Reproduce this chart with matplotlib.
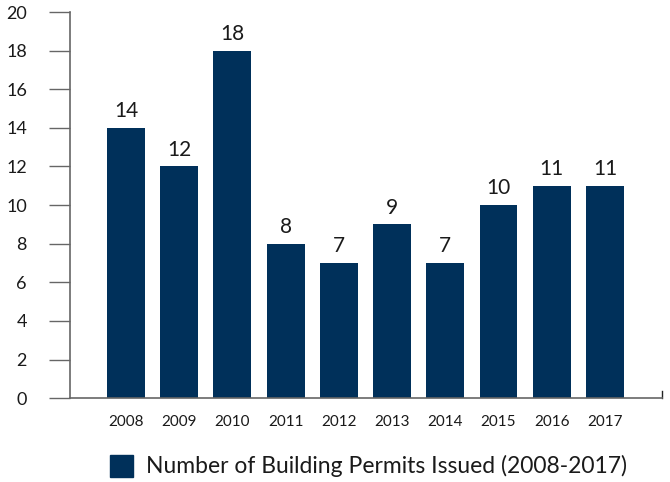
import matplotlib.pyplot as plt
from matplotlib.patches import Patch

years = ['2008', '2009', '2010', '2011', '2012', '2013', '2014', '2015', '2016', '2017']
permits = [14, 12, 18, 8, 7, 9, 7, 10, 11, 11]
yticks = [0, 2, 4, 6, 8, 10, 12, 14, 16, 18, 20]

bar_color = '#00305a'
axis_color = '#666666'
plt.rcParams['font.family'] = ['Lato', 'DejaVu Sans']

fig = plt.figure(figsize=(6.70, 4.82), dpi=100)
ax = fig.add_axes([0.1045, 0.174, 0.8835, 0.801])

x = list(range(len(years)))
bars = ax.bar(x, permits, width=0.71, color=bar_color, zorder=2)
for xi, v in zip(x, permits):
    ax.text(xi, v + 0.35, str(v), ha='center', va='bottom', fontsize=15, color='#1a1a1a')

ax.set_xlim(-1.05, 10.07)
ax.set_ylim(0, 20)
ax.set_yticks(yticks)
ax.set_yticklabels([str(t) for t in yticks], fontsize=13, color='#1a1a1a')
ax.set_xticks(x)
ax.set_xticklabels(years, fontsize=11, color='#1a1a1a')

ax.tick_params(axis='y', direction='out', length=15, width=1, color=axis_color, pad=16)
ax.tick_params(axis='x', length=0, pad=12)

for s in ['top', 'right']:
    ax.spines[s].set_visible(False)
for s in ['left', 'bottom']:
    ax.spines[s].set_color(axis_color)
    ax.spines[s].set_linewidth(1.2)

# small end tick at the right of the x axis
ax.plot([10.07, 10.07], [0, 0.35], color='#222222', lw=1, clip_on=False)

fig.legend(handles=[Patch(color=bar_color, label='Number of Building Permits Issued (2008-2017)')],
           loc='center', bbox_to_anchor=(0.55, 0.033), frameon=False, fontsize=16.5,
           handlelength=1.0, handleheight=1.1, handletextpad=0.6, labelcolor='#1a1a1a')

fig.savefig('out.png', dpi=100)
